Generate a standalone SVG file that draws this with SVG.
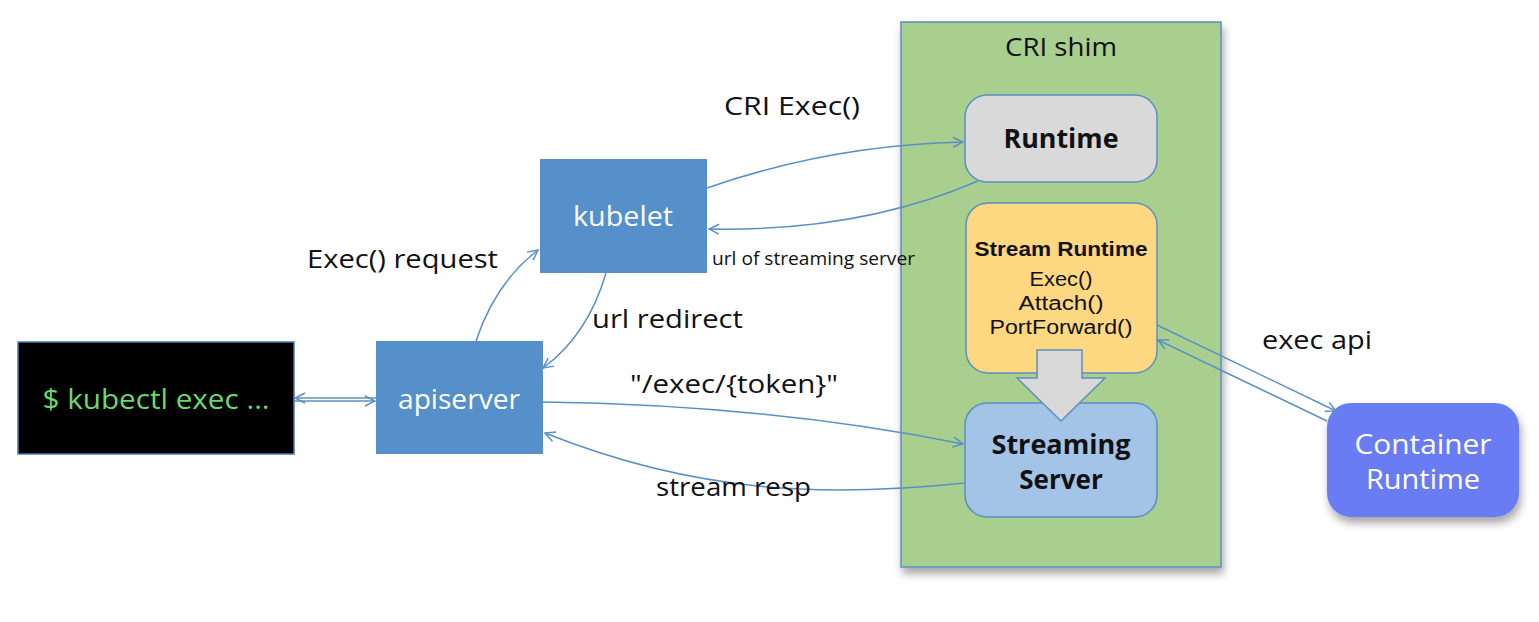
<svg xmlns="http://www.w3.org/2000/svg" width="1539" height="622" viewBox="0 0 1539 622">
<defs>
<style>
.t{font-family:"Open Sans","Liberation Sans",sans-serif;}
.ls{font-family:"Liberation Sans","Open Sans",sans-serif;}
.lbl{font-family:"Open Sans","Liberation Sans",sans-serif;font-size:26px;fill:#111;}
.blue{fill:#5690cb;}
.conn{fill:none;stroke:#5b8fc4;stroke-width:1.5;}
.wt{fill:#fff;font-size:27px;text-anchor:middle;}
.bt{fill:#111;text-anchor:middle;}
</style>
<marker id="ah" viewBox="0 0 12 12" refX="11" refY="6" markerWidth="12" markerHeight="12" markerUnits="userSpaceOnUse" orient="auto">
<path d="M1,1 L11,6 L1,11" fill="none" stroke="#5b8fc4" stroke-width="1.5"/>
</marker>
<filter id="sh" x="-10%" y="-10%" width="130%" height="130%">
<feDropShadow dx="2" dy="6" stdDeviation="4" flood-color="#000" flood-opacity="0.35"/>
</filter>
</defs>
<rect width="1539" height="622" fill="#ffffff"/>

<g id="cri-shim">
<rect x="901" y="22" width="320" height="545" fill="#a9cf8e" stroke="#5b8fc4" stroke-width="1.5" filter="url(#sh)"/>
<text class="t bt" x="1061" y="56" font-size="26" textLength="112" lengthAdjust="spacingAndGlyphs">CRI shim</text>
</g>

<g id="terminal">
<rect x="18" y="342" width="276" height="112" fill="#000" stroke="#4a7ab5" stroke-width="1.5"/>
<text class="t" x="156" y="409" font-size="28" fill="#6bd86b" text-anchor="middle" textLength="227" lengthAdjust="spacingAndGlyphs">$ kubectl exec …</text>
</g>

<g id="apiserver">
<rect class="blue" x="376" y="341" width="167" height="113"/>
<text class="t wt" x="459" y="409" textLength="122" lengthAdjust="spacingAndGlyphs">apiserver</text>
</g>

<g id="kubelet">
<rect class="blue" x="540" y="159" width="167" height="114"/>
<text class="t wt" x="623" y="226" textLength="100" lengthAdjust="spacingAndGlyphs">kubelet</text>
</g>

<g id="runtime">
<rect x="965" y="95" width="192" height="87" rx="22" fill="#d9d9d9" stroke="#5b8fc4" stroke-width="1.5"/>
<text class="t bt" x="1061" y="148" font-size="26" font-weight="bold" textLength="115" lengthAdjust="spacingAndGlyphs">Runtime</text>
</g>

<g id="stream-runtime">
<rect x="966" y="203" width="191" height="170" rx="22" fill="#fdd881" stroke="#5b8fc4" stroke-width="1.5"/>
<text class="ls bt" x="1061" y="256" font-size="20" font-weight="bold" textLength="173" lengthAdjust="spacingAndGlyphs">Stream Runtime</text>
<text class="ls bt" x="1061" y="286" font-size="20" textLength="63" lengthAdjust="spacingAndGlyphs">Exec()</text>
<text class="ls bt" x="1061" y="310" font-size="20" textLength="85" lengthAdjust="spacingAndGlyphs">Attach()</text>
<text class="ls bt" x="1061" y="334" font-size="20" textLength="143" lengthAdjust="spacingAndGlyphs">PortForward()</text>
</g>

<g id="streaming-server">
<rect x="965" y="403" width="192" height="114" rx="22" fill="#a4c4e7" stroke="#5b8fc4" stroke-width="1.5"/>
<text class="t bt" x="1061" y="454" font-size="26" font-weight="bold" textLength="139" lengthAdjust="spacingAndGlyphs">Streaming</text>
<text class="t bt" x="1061" y="489" font-size="26" font-weight="bold">Server</text>
</g>

<g id="big-arrow">
<polygon points="1037,350 1082,350 1082,378 1105,378 1061,421 1017,378 1037,378" fill="#d9d9d9" stroke="#5b8fc4" stroke-width="1.5"/>
</g>

<g id="container-runtime">
<rect x="1327" y="403" width="192" height="114" rx="24" fill="#6b7cf3" filter="url(#sh)"/>
<text class="t wt" x="1423" y="454" font-size="27" textLength="137" lengthAdjust="spacingAndGlyphs">Container</text>
<text class="t wt" x="1423" y="489" font-size="27" textLength="114" lengthAdjust="spacingAndGlyphs">Runtime</text>
</g>

<g id="connectors">
<path class="conn" d="M707,188 Q830,145 963,142" marker-end="url(#ah)"/>
<path class="conn" d="M978,181 Q860,232 709,229" marker-end="url(#ah)"/>
<path class="conn" d="M476,341 Q495,283 538,250" marker-end="url(#ah)"/>
<path class="conn" d="M606,273 Q588,335 543,368" marker-end="url(#ah)"/>
<path class="conn" d="M376,398 L295,398" marker-end="url(#ah)"/>
<path class="conn" d="M294,401 L375,401" marker-end="url(#ah)"/>
<path class="conn" d="M543,402 Q770,405 963,444" marker-end="url(#ah)"/>
<path class="conn" d="M965,483 C830,497 700,495 545,433" marker-end="url(#ah)"/>
<path class="conn" d="M1157,325 L1336,411" marker-end="url(#ah)"/>
<path class="conn" d="M1327,421 L1158,340" marker-end="url(#ah)"/>
</g>

<g id="labels">
<text class="lbl" x="724" y="115" textLength="136" lengthAdjust="spacingAndGlyphs">CRI Exec()</text>
<text class="lbl" x="307" y="268" textLength="191" lengthAdjust="spacingAndGlyphs">Exec() request</text>
<text class="t" x="712" y="265" font-size="18" fill="#111" textLength="203" lengthAdjust="spacingAndGlyphs">url of streaming server</text>
<text class="lbl" x="592" y="328" textLength="151" lengthAdjust="spacingAndGlyphs">url redirect</text>
<text class="lbl" x="630" y="393" textLength="208" lengthAdjust="spacingAndGlyphs">"/exec/{token}"</text>
<text class="lbl" x="656" y="496" textLength="155" lengthAdjust="spacingAndGlyphs">stream resp</text>
<text class="lbl" x="1262" y="349" textLength="110" lengthAdjust="spacingAndGlyphs">exec api</text>
</g>
</svg>
